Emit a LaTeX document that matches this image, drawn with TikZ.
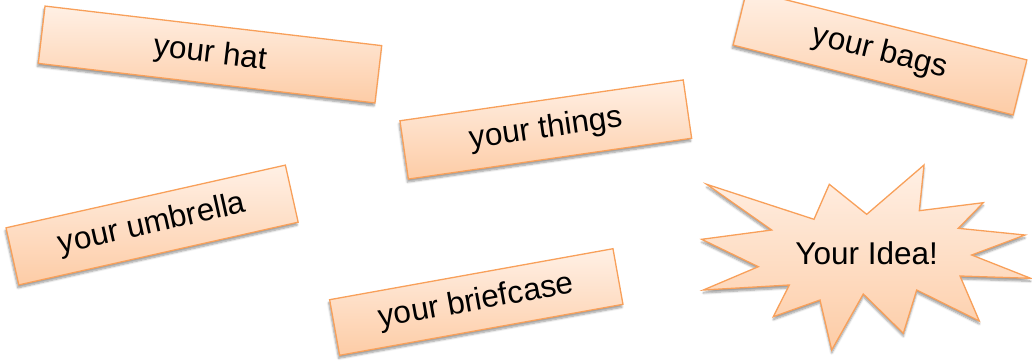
\documentclass[tikz,border=0pt]{standalone}
\usepackage{fontspec}
\setmainfont{Liberation Sans}
\usetikzlibrary{shadows.blur}
\definecolor{boxtop}{HTML}{FFF0E5}
\definecolor{boxbot}{HTML}{FDCCA6}
\definecolor{boxline}{HTML}{F8A05A}
\tikzset{
  card/.style={draw=boxline, line width=1.3pt, top color=boxtop, bottom color=boxbot,
    inner sep=0pt, font=\fontsize{31.5}{37}\selectfont,
    blur shadow={shadow xshift=-1pt, shadow yshift=-3pt, shadow blur steps=6, shadow opacity=40}},
  burst/.style={draw=boxline, line width=1.3pt, top color=boxtop, bottom color=boxbot, line join=miter,
    blur shadow={shadow xshift=0pt, shadow yshift=-3pt, shadow blur steps=6, shadow opacity=40}},
  bursttext/.style={font=\fontsize{31.5}{37}\selectfont, inner sep=0pt}
}
\begin{document}
\begin{tikzpicture}[x=1pt,y=-1pt]
\useasboundingbox (0,0) rectangle (1032,360);
\node[card, rotate=-6.7, minimum width=339pt, minimum height=57.7pt] (hat) at (210,54.5) {your hat};
\node[card, rotate=-14, minimum width=288.6pt, minimum height=56.7pt] (bags) at (880,52.5) {your bags};
\node[card, rotate=8.2, minimum width=286.2pt, minimum height=58.9pt] (things) at (545.8,129.5) {your things};
\node[card, rotate=12.65, minimum width=286.3pt, minimum height=58.5pt] (umbrella) at (152.1,225) {your umbrella};
\node[card, rotate=10.2, minimum width=287.9pt, minimum height=56.5pt] (briefcase) at (476.3,302) {your briefcase};
\path[burst] (706.7,184.3) -- (814,219.3) -- (829.3,184.3) -- (866.7,214.3) -- (924,165)
  -- (919.3,210.7) -- (983.3,202.7) -- (958.3,228.3) -- (1025,235) -- (971.7,255)
  -- (1030.7,278.3) -- (960,276) -- (979.3,321) -- (916.7,290) -- (903.3,333.3)
  -- (863.3,294) -- (831.7,350) -- (820,300) -- (773.3,316.7) -- (789.3,285)
  -- (703.3,290) -- (758.3,266.7) -- (701.7,239.3) -- (771.7,230) -- cycle;
\node[bursttext] (idea) at (866.7,253) {Your Idea!};
\end{tikzpicture}
\end{document}
